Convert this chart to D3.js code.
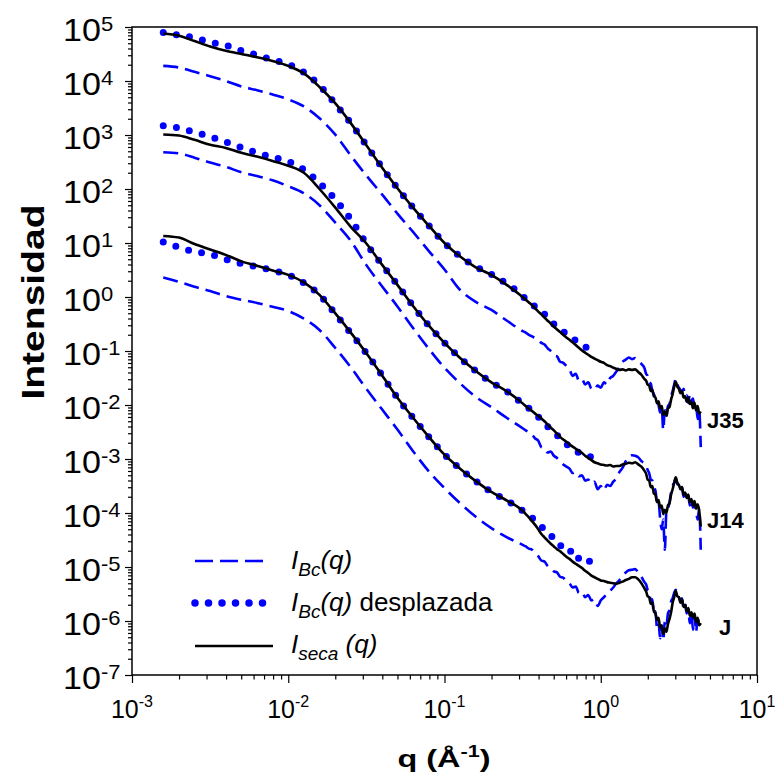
<!DOCTYPE html>
<html>
<head>
<meta charset="utf-8">
<script src="https://cdn.jsdelivr.net/npm/d3@7"></script>
<style>
  body { margin: 0; background: #fff; }
  svg text { font-family: "Liberation Sans", Arial, sans-serif; fill: #000; }
</style>
</head>
<body>
<svg id="chart" width="777" height="774"></svg>
<script>
// ---- data -----------------------------------------------------------------
// Scattering vector grid, stored as log10(q / Å^-1): coarse over the
// Guinier / power-law region, finer towards the noisy high-q end.
const logQ = [
  -2.8, -2.7, -2.6, -2.5, -2.4, -2.3, -2.2, -2.1, -2.0, -1.9, -1.8, -1.7,
  -1.6, -1.5, -1.4, -1.3, -1.2, -1.1, -1.0, -0.9, -0.8, -0.7, -0.6, -0.5,
  -0.48, -0.46, -0.44, -0.42, -0.40, -0.38, -0.36, -0.34, -0.32, -0.30,
  -0.28, -0.26, -0.24, -0.22, -0.20, -0.18, -0.16, -0.14, -0.12, -0.10,
  -0.08, -0.06, -0.04, -0.02, 0.00, 0.02, 0.04, 0.06, 0.08, 0.10, 0.12,
  0.14, 0.16, 0.18, 0.20, 0.22, 0.24, 0.26, 0.28,
  0.29, 0.30, 0.31, 0.32, 0.33, 0.34, 0.35, 0.36, 0.37, 0.38,
  0.39, 0.40, 0.41, 0.42, 0.43, 0.44, 0.45, 0.46, 0.47, 0.48,
  0.49, 0.50, 0.51, 0.52, 0.53, 0.54, 0.55, 0.56, 0.57, 0.58,
  0.59, 0.60, 0.61, 0.62, 0.63, 0.64
];

// Intensities as log10(I), one value per logQ entry.
// Sample J35
const J35_seca = [
  4.88, 4.84, 4.74, 4.64, 4.56, 4.50, 4.44, 4.37, 4.28, 4.14, 3.89, 3.59,
  3.22, 2.81, 2.40, 2.01, 1.65, 1.32, 1.00, 0.75, 0.55, 0.41, 0.22, 0.00,
  -0.05, -0.10, -0.15, -0.21, -0.27, -0.32, -0.38, -0.44, -0.49, -0.55,
  -0.60, -0.65, -0.70, -0.75, -0.79, -0.84, -0.89, -0.94, -0.99, -1.03,
  -1.07, -1.11, -1.14, -1.17, -1.20, -1.22, -1.26, -1.28, -1.31, -1.33, -1.35,
  -1.34, -1.36, -1.34, -1.35, -1.34, -1.39, -1.44, -1.52,
  -1.55, -1.62, -1.64, -1.74, -1.72, -1.84, -1.86, -1.97, -1.93, -2.06,
  -2.02, -2.18, -2.12, -2.20, -2.06, -2.04, -1.90, -1.80, -1.66, -1.57,
  -1.66, -1.70, -1.78, -1.74, -1.86, -1.84, -1.94, -1.86, -1.98, -1.94,
  -2.06, -1.96, -2.10, -2.02, -2.16, -2.12
];
const J35_bc = [
  4.28, 4.25, 4.17, 4.09, 4.00, 3.90, 3.83, 3.75, 3.66, 3.53, 3.31, 3.01,
  2.62, 2.25, 1.90, 1.54, 1.20, 0.85, 0.51, 0.13, -0.09, -0.24, -0.44, -0.63,
  -0.66, -0.70, -0.73, -0.76, -0.79, -0.85, -0.88, -0.95, -1.00, -1.08,
  -1.10, -1.20, -1.22, -1.28, -1.34, -1.46, -1.42, -1.55, -1.52, -1.62,
  -1.58, -1.70, -1.72, -1.64, -1.68, -1.58, -1.62, -1.50, -1.46, -1.38, -1.30,
  -1.20, -1.16, -1.12, -1.15, -1.13, -1.19, -1.24, -1.32,
  -1.42, -1.46, -1.58, -1.60, -1.74, -1.80, -1.86, -1.90, -2.00, -2.14,
  -2.04, -2.46, -2.10, -2.22, -2.02, -1.98, -1.84, -1.74, -1.62, -1.52,
  -1.62, -1.68, -1.72, -1.76, -1.70, -1.84, -1.82, -1.96, -1.80, -1.92,
  -1.88, -2.04, -1.98, -2.26, -2.10, -2.78
];
const J35_bcShifted = [
  4.90, 4.85, 4.80, 4.72, 4.66, 4.56, 4.48, 4.39, 4.31, 4.16, 3.92, 3.58,
  3.22, 2.81, 2.40, 2.01, 1.65, 1.32, 1.00, 0.75, 0.56, 0.42, 0.24, 0.02,
  -0.04, -0.09, -0.13, -0.18, -0.22, -0.27, -0.32, -0.38, -0.44, -0.50,
  -0.55, -0.59, -0.64, -0.68, -0.71, -0.76, -0.81, -0.86, -0.89, -0.92,
  -0.95, -0.98, -1.00, -1.03
];

// Sample J14
const J14_seca = [
  3.01, 2.99, 2.91, 2.82, 2.76, 2.67, 2.60, 2.52, 2.43, 2.30, 2.00, 1.66,
  1.30, 0.99, 0.60, 0.22, -0.17, -0.53, -0.85, -1.13, -1.37, -1.58, -1.75, -1.97,
  -2.02, -2.07, -2.11, -2.16, -2.20, -2.25, -2.30, -2.36, -2.42, -2.47,
  -2.53, -2.59, -2.64, -2.68, -2.73, -2.77, -2.81, -2.85, -2.89, -2.94,
  -2.98, -3.02, -3.06, -3.08, -3.10, -3.11, -3.12, -3.11, -3.14, -3.13, -3.13,
  -3.10, -3.09, -3.07, -3.08, -3.06, -3.10, -3.14, -3.22,
  -3.27, -3.38, -3.40, -3.52, -3.50, -3.64, -3.66, -3.80, -3.76, -3.90,
  -3.86, -4.02, -3.94, -4.00, -3.86, -3.82, -3.66, -3.56, -3.44, -3.34,
  -3.44, -3.48, -3.56, -3.52, -3.66, -3.62, -3.72, -3.66, -3.80, -3.74,
  -3.86, -3.78, -3.92, -3.84, -3.96, -4.25
];
const J14_bc = [
  2.68, 2.66, 2.58, 2.49, 2.41, 2.31, 2.24, 2.16, 2.05, 1.92, 1.70, 1.38,
  1.04, 0.59, 0.20, -0.18, -0.58, -0.96, -1.31, -1.60, -1.85, -2.04, -2.24, -2.43,
  -2.47, -2.51, -2.55, -2.62, -2.66, -2.78, -2.80, -2.88, -2.86, -2.94,
  -2.98, -3.04, -3.10, -3.14, -3.18, -3.26, -3.24, -3.32, -3.30, -3.40,
  -3.38, -3.46, -3.42, -3.56, -3.50, -3.58, -3.48, -3.50, -3.42, -3.36, -3.24,
  -3.16, -3.04, -2.96, -2.93, -2.94, -2.97, -3.04, -3.08,
  -3.12, -3.20, -3.26, -3.38, -3.40, -3.58, -3.56, -3.84, -3.80, -4.10,
  -4.30, -4.12, -4.68, -3.98, -3.92, -3.80, -3.62, -3.50, -3.44, -3.36,
  -3.46, -3.50, -3.56, -3.52, -3.70, -3.64, -3.76, -3.68, -3.86, -3.76,
  -3.90, -3.82, -3.96, -4.12, -3.92, -4.68
];
const J14_bcShifted = [
  3.17, 3.13, 3.05, 2.97, 2.87, 2.77, 2.67, 2.59, 2.51, 2.36, 2.11, 1.81,
  1.44, 0.99, 0.60, 0.22, -0.17, -0.53, -0.85, -1.13, -1.37, -1.58, -1.75, -1.97,
  -2.01, -2.06, -2.11, -2.17, -2.22, -2.28, -2.34, -2.40, -2.45, -2.50,
  -2.56, -2.62, -2.68, -2.72, -2.78, -2.82, -2.86, -2.88, -2.92, -2.94,
  -2.96, -2.96, -2.97, -2.94, -2.93
];

// Sample J
const J_seca = [
  1.13, 1.10, 0.98, 0.88, 0.78, 0.66, 0.58, 0.49, 0.41, 0.27, 0.04, -0.30,
  -0.66, -1.04, -1.45, -1.87, -2.24, -2.59, -2.92, -3.18, -3.41, -3.61, -3.77, -3.96,
  -4.02, -4.08, -4.15, -4.22, -4.30, -4.39, -4.45, -4.51, -4.57, -4.62,
  -4.67, -4.71, -4.76, -4.81, -4.85, -4.90, -4.94, -4.98, -5.02, -5.07,
  -5.11, -5.16, -5.19, -5.22, -5.25, -5.26, -5.28, -5.29, -5.30, -5.31, -5.29,
  -5.27, -5.24, -5.22, -5.19, -5.19, -5.23, -5.30, -5.40,
  -5.45, -5.54, -5.56, -5.68, -5.66, -5.82, -5.86, -5.98, -5.94, -6.12,
  -6.08, -6.24, -6.14, -6.20, -6.06, -5.96, -5.84, -5.66, -5.56, -5.44,
  -5.54, -5.56, -5.66, -5.60, -5.74, -5.70, -5.82, -5.76, -5.90, -5.84,
  -5.94, -5.86, -6.02, -5.94, -6.08, -6.04
];
const J_bc = [
  0.36, 0.28, 0.19, 0.11, 0.02, -0.05, -0.11, -0.18, -0.26, -0.40, -0.61, -0.94,
  -1.30, -1.70, -2.08, -2.46, -2.86, -3.23, -3.54, -3.82, -4.07, -4.28, -4.45, -4.59,
  -4.62, -4.66, -4.68, -4.74, -4.80, -4.88, -4.90, -4.98, -5.02, -5.08,
  -5.10, -5.18, -5.20, -5.26, -5.30, -5.38, -5.36, -5.48, -5.46, -5.56,
  -5.52, -5.62, -5.60, -5.72, -5.62, -5.56, -5.50, -5.44, -5.38, -5.30, -5.24,
  -5.16, -5.10, -5.06, -5.05, -5.04, -5.10, -5.18, -5.28,
  -5.32, -5.42, -5.46, -5.62, -5.60, -5.86, -5.82, -6.12, -6.04, -6.32,
  -6.10, -6.36, -6.02, -6.10, -5.86, -5.80, -5.64, -5.58, -5.48, -5.42,
  -5.52, -5.56, -5.62, -5.58, -5.76, -5.68, -5.86, -5.78, -6.04, -5.84,
  -6.16, -5.90, -6.20, -5.96, -6.02, -5.92
];
const J_bcShifted = [
  1.02, 0.92, 0.84, 0.79, 0.70, 0.62, 0.56, 0.49, 0.41, 0.26, 0.04, -0.31,
  -0.67, -1.04, -1.45, -1.87, -2.24, -2.59, -2.92, -3.18, -3.41, -3.61, -3.77, -3.96,
  -4.01, -4.05, -4.09, -4.14, -4.19, -4.25, -4.30, -4.35, -4.41, -4.48,
  -4.50, -4.60, -4.62, -4.70, -4.68, -4.77, -4.74, -4.84, -4.82, -4.88,
  -4.87, -4.98
];

const sampleNames = ["J35", "J14", "J"];
const yTickExponents = [5, 4, 3, 2, 1, 0, -1, -2, -3, -4, -5, -6, -7];
const xTickExponents = [-3, -2, -1, 0, 1];

// ---- layout -----------------------------------------------------------------
const svg = d3.select("#chart");
const plotLeft = 132, plotRight = 757, plotTop = 27, plotBottom = 675;

const x = d3.scaleLog().domain([1e-3, 10]).range([plotLeft, plotRight]);
const y = d3.scaleLog().domain([1e-7, 1e5]).range([plotBottom, plotTop]);

const toPoints = vals => vals.map((v, i) => [10 ** logQ[i], 10 ** v]);
const line = d3.line()
  .x(d => x(d[0]))
  .y(d => y(d[1]))
  .curve(d3.curveMonotoneX);

const BLUE = "#0000ff";

// ---- axes -------------------------------------------------------------------
function minorTicks(lo, hi) {
  const out = [];
  for (let e = lo; e < hi; e++) for (let m = 2; m <= 9; m++) out.push(m * 10 ** e);
  return out;
}
const yMajor = yTickExponents.map(e => 10 ** e);
const xMajor = xTickExponents.map(e => 10 ** e);

const axes = svg.append("g");
function drawAxis(axis, transform) {
  const g = axes.append("g").attr("transform", transform).call(axis);
  g.select(".domain").remove();
  g.selectAll(".tick line").attr("stroke", "#000").attr("stroke-width", 1.2);
  g.selectAll(".tick text").remove();
}
drawAxis(d3.axisLeft(y).tickValues(yMajor).tickSize(7), `translate(${plotLeft},0)`);
drawAxis(d3.axisLeft(y).tickValues(minorTicks(-7, 5)).tickSize(4), `translate(${plotLeft},0)`);
drawAxis(d3.axisBottom(x).tickValues(xMajor).tickSize(8), `translate(0,${plotBottom})`);
drawAxis(d3.axisBottom(x).tickValues(minorTicks(-3, 1)).tickSize(4.5), `translate(0,${plotBottom})`);

axes.append("rect")
  .attr("x", plotLeft).attr("y", plotTop)
  .attr("width", plotRight - plotLeft).attr("height", plotBottom - plotTop)
  .attr("fill", "none").attr("stroke", "#000").attr("stroke-width", 1.5);

// y tick labels: 10^n
yTickExponents.forEach(e => {
  const g = svg.append("g")
    .attr("transform", `translate(63,${y(10 ** e) + 13.5}) scale(1.1,1)`);
  const t = g.append("text").attr("font-size", 31);
  t.append("tspan").text("10");
  t.append("tspan").attr("dy", -10).attr("font-size", 20).text(e < 0 ? "-" + (-e) : String(e));
});

// x tick labels
xTickExponents.forEach(e => {
  const t = svg.append("text")
    .attr("x", x(10 ** e)).attr("y", 718)
    .attr("text-anchor", "middle").attr("font-size", 25);
  t.append("tspan").text("10");
  t.append("tspan").attr("dy", -11).attr("font-size", 16).text(e < 0 ? "-" + (-e) : String(e));
});

// axis titles
const xt = svg.append("g").attr("transform", "translate(444,767) scale(1.35,1)")
  .append("text").attr("text-anchor", "middle").attr("font-size", 24).attr("font-weight", "bold");
xt.append("tspan").text("q (Å");
xt.append("tspan").attr("dy", -10).attr("font-size", 16).text("-1");
xt.append("tspan").attr("dy", 10).text(")");

svg.append("g").attr("transform", "translate(44,302) rotate(-90) scale(1.22,1)")
  .append("text").attr("text-anchor", "middle").attr("font-size", 32)
  .attr("font-weight", "bold").text("Intensidad");

// ---- curves -----------------------------------------------------------------
const samples = [
  { name: sampleNames[0], seca: J35_seca, bc: J35_bc, shifted: J35_bcShifted, labelX: 707, labelY: 428 },
  { name: sampleNames[1], seca: J14_seca, bc: J14_bc, shifted: J14_bcShifted, labelX: 707, labelY: 528 },
  { name: sampleNames[2], seca: J_seca,   bc: J_bc,   shifted: J_bcShifted,   labelX: 719, labelY: 635 }
];

const plot = svg.append("g");
samples.forEach(s => {
  plot.append("path").attr("d", line(toPoints(s.bc)))
    .attr("fill", "none").attr("stroke", BLUE).attr("stroke-width", 2.6)
    .attr("stroke-dasharray", "15,7");
});
samples.forEach(s => {
  plot.append("path").attr("d", line(toPoints(s.shifted)))
    .attr("fill", "none").attr("stroke", BLUE).attr("stroke-width", 7)
    .attr("stroke-linecap", "round").attr("stroke-dasharray", "0,13.3");
});
samples.forEach(s => {
  plot.append("path").attr("d", line(toPoints(s.seca)))
    .attr("fill", "none").attr("stroke", "#000").attr("stroke-width", 2.6)
    .attr("stroke-linejoin", "round");
  svg.append("text").attr("x", s.labelX).attr("y", s.labelY)
    .attr("font-size", 22).attr("font-weight", "bold").text(s.name);
});

// ---- legend -----------------------------------------------------------------
const legend = svg.append("g");
legend.append("line").attr("x1", 195).attr("x2", 263).attr("y1", 561).attr("y2", 561)
  .attr("stroke", BLUE).attr("stroke-width", 2.6).attr("stroke-dasharray", "18,7");
legend.append("line").attr("x1", 195).attr("x2", 263).attr("y1", 603).attr("y2", 603)
  .attr("stroke", BLUE).attr("stroke-width", 7.5).attr("stroke-linecap", "round")
  .attr("stroke-dasharray", "0,13.5");
legend.append("line").attr("x1", 195).attr("x2", 273).attr("y1", 646).attr("y2", 646)
  .attr("stroke", "#000").attr("stroke-width", 2.6);

function legendLabel(yBase, sub, tail) {
  const t = legend.append("text").attr("x", 291).attr("y", yBase).attr("font-size", 26);
  t.append("tspan").attr("font-style", "italic").text("I");
  t.append("tspan").attr("font-style", "italic").attr("font-size", 19).attr("dy", 7).text(sub);
  t.append("tspan").attr("font-style", "italic").attr("dy", -7).text(tail);
  return t;
}
legendLabel(569, "Bc", "(q)");
legendLabel(611, "Bc", "(q)").append("tspan").text(" desplazada");
legendLabel(653, "seca", " (q)");
</script>
</body>
</html>
